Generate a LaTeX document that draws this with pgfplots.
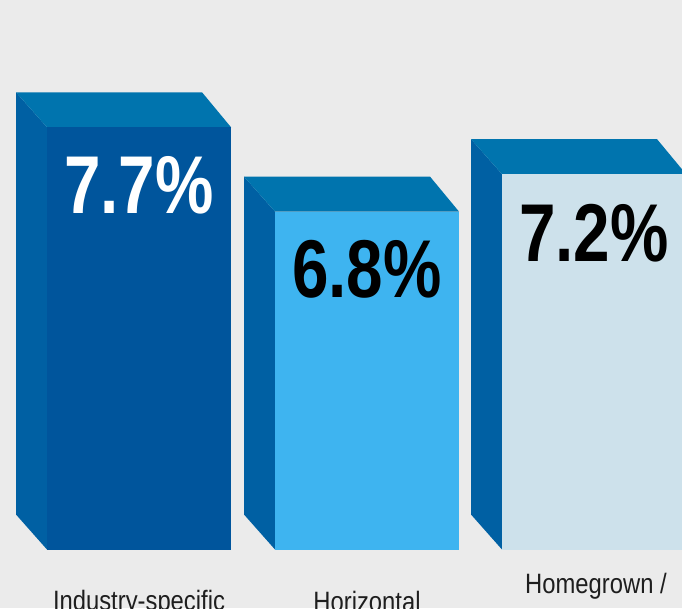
\documentclass[border=0pt]{standalone}
\usepackage{fontspec}
\usepackage{pgfplots}
\pgfplotsset{compat=1.18}
\setmainfont{Liberation Sans}
\newfontfamily\numfont{Liberation Sans}[FakeStretch=0.8]
\newfontfamily\labfont{Liberation Sans}[FakeStretch=0.85]
\definecolor{bg}{HTML}{EBEBEB}
\definecolor{topc}{HTML}{0074AE}
\definecolor{sidec}{HTML}{0060A3}
\definecolor{fa}{HTML}{00559C}
\definecolor{fb}{HTML}{3EB4F0}
\definecolor{fc}{HTML}{CDE1EB}
\definecolor{lab}{HTML}{1E1E1E}
\begin{document}
\begin{tikzpicture}
\fill[bg] (0,0) rectangle (682pt,608pt);
\begin{axis}[hide axis, scale only axis, width=682pt, height=608pt,
  xmin=0, xmax=682, ymin=2.570, ymax=9.058, clip=true]
% Bar 1: Industry-specific 7.7
\addplot[fill=sidec, draw=none] coordinates {(16,3.5675) (47,3.194) (47,7.7) (16,8.0735)} --cycle;
\addplot[fill=topc, draw=none] coordinates {(16,8.0735) (202,8.0735) (231,7.7) (47,7.7)} --cycle;
\addplot[fill=fa, draw=none] coordinates {(47,3.194) (231,3.194) (231,7.7) (47,7.7)} --cycle;
% Bar 2: Horizontal 6.8
\addplot[fill=sidec, draw=none] coordinates {(244,3.5675) (275,3.194) (275,6.8) (244,7.1735)} --cycle;
\addplot[fill=topc, draw=none] coordinates {(244,7.1735) (430,7.1735) (459,6.8) (275,6.8)} --cycle;
\addplot[fill=fb, draw=none] coordinates {(275,3.194) (459,3.194) (459,6.8) (275,6.8)} --cycle;
% Bar 3: Homegrown / in-house 7.2
\addplot[fill=sidec, draw=none] coordinates {(471,3.5675) (502,3.194) (502,7.2) (471,7.5735)} --cycle;
\addplot[fill=topc, draw=none] coordinates {(471,7.5735) (657,7.5735) (686,7.2) (502,7.2)} --cycle;
\addplot[fill=fc, draw=none] coordinates {(502,3.194) (686,3.194) (686,7.2) (502,7.2)} --cycle;
% value labels
\node[anchor=base, inner sep=0, text=white, font=\numfont\bfseries\fontsize{82}{82}\selectfont, yshift=-86pt] at (axis cs:139,7.7) {7.7\%};
\node[anchor=base, inner sep=0, text=black, font=\numfont\bfseries\fontsize{82}{82}\selectfont, yshift=-86pt] at (axis cs:367,6.8) {6.8\%};
\node[anchor=base, inner sep=0, text=black, font=\numfont\bfseries\fontsize{82}{82}\selectfont, yshift=-87pt] at (axis cs:594,7.2) {7.2\%};
% category labels
\node[anchor=base, inner sep=0, text=lab, font=\labfont\fontsize{28}{28}\selectfont, yshift=-60.5pt] at (axis cs:139,3.194) {Industry-specific};
\node[anchor=base, inner sep=0, text=lab, font=\labfont\fontsize{28}{28}\selectfont, yshift=-61.5pt] at (axis cs:367,3.194) {Horizontal};
\node[anchor=base, inner sep=0, text=lab, font=\labfont\fontsize{28}{28}\selectfont, yshift=-43.5pt] at (axis cs:596,3.194) {Homegrown /};
\node[anchor=base, inner sep=0, text=lab, font=\labfont\fontsize{28}{28}\selectfont, yshift=-81pt] at (axis cs:596,3.194) {in-house};
\end{axis}
\pgfresetboundingbox
\path (0,0) rectangle (682pt,608pt);
\end{tikzpicture}
\end{document}
